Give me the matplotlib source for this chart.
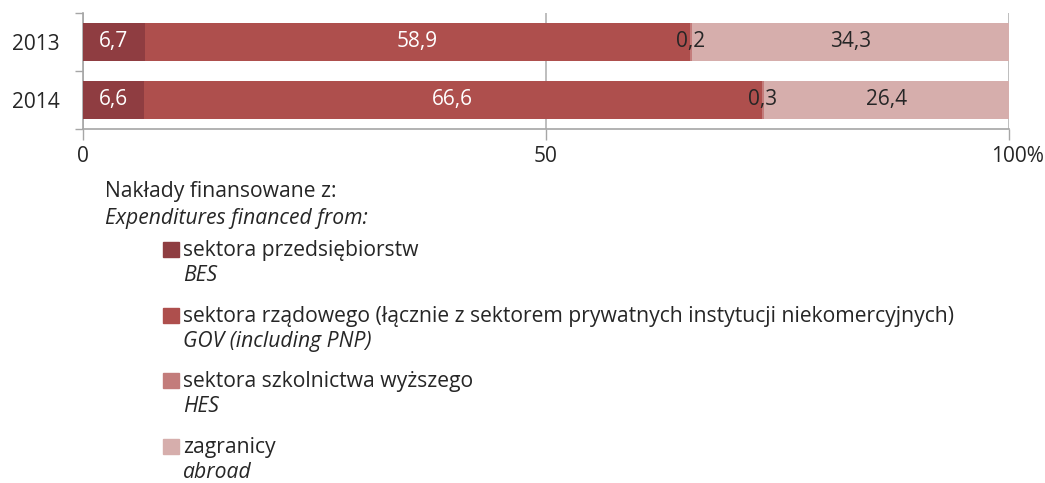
import matplotlib.pyplot as plt
import matplotlib.transforms as mtransforms
import numpy as np
from matplotlib.patches import Rectangle

plt.rcParams['font.family'] = ['Open Sans', 'DejaVu Sans']

# Udział nakładów wg źródeł finansowania (%)
years = ['2013', '2014']
bes = [6.7, 6.6]
gov = [58.9, 66.6]
hes = [0.2, 0.3]
abroad = [34.3, 26.4]

series_pl = ['sektora przedsiębiorstw',
             'sektora rządowego (łącznie z sektorem prywatnych instytucji niekomercyjnych)',
             'sektora szkolnictwa wyższego',
             'zagranicy']
series_en = ['BES', 'GOV (including PNP)', 'HES', 'abroad']
colors = ['#8F3D41', '#AE4F4D', '#C37C7B', '#D6AEAC']
label_colors = ['white', 'white', '#262626', '#262626']

W, H = 1045, 483
fig = plt.figure(figsize=(W / 100, H / 100), dpi=100)
ax = fig.add_axes([83 / W, 1 - 129 / H, 926 / W, 116 / H])

data = np.array([bes, gov, hes, abroad])
shares = data / data.sum(axis=0) * 100
y = np.arange(len(years))
left = np.zeros(len(years))
for i in range(len(data)):
    ax.barh(y, shares[i], left=left, height=0.66, color=colors[i], zorder=3)
    for j in range(len(years)):
        ax.text(left[j] + shares[i][j] / 2, y[j], f'{data[i][j]:.1f}'.replace('.', ','),
                ha='center', va='center', fontsize=15, color=label_colors[i], zorder=4)
    left += shares[i]

ax.set_xlim(0, 100)
ax.set_ylim(1.5, -0.5)
ax.set_xticks([0, 50, 100])
ax.set_xticklabels(['0', '50', '100%'])
ax.set_yticks(y)
ax.set_yticklabels(years)
ax.set_yticks([-0.5, 0.5, 1.5], minor=True)
ax.tick_params(axis='y', which='major', length=0, pad=17, labelsize=15, labelcolor='#262626')
ax.tick_params(axis='y', which='minor', length=6, width=1, color='#A6A6A6', direction='out')
ax.tick_params(axis='x', length=8, width=1, color='#A6A6A6', pad=4, labelsize=15, labelcolor='#262626')
# etykieta 100% przesunięta w prawo, żeby nie wychodziła poza rysunek
last = ax.get_xticklabels()[-1]
last.set_transform(last.get_transform() + mtransforms.ScaledTranslation(8 / 100, 0, fig.dpi_scale_trans))
ax.grid(axis='x', color='#B3B3B3', linewidth=1.2, zorder=0)
for s in ['top', 'right']:
    ax.spines[s].set_visible(False)
for s in ['left', 'bottom']:
    ax.spines[s].set_color('#A6A6A6')
    ax.spines[s].set_linewidth(1.2)


# legenda pod wykresem, współrzędne w pikselach
def fx(px):
    return px / W


def fy(py):
    return 1 - py / H


txt = dict(fontsize=15.2, color='#262626', va='baseline')
fig.text(fx(105), fy(197), 'Nakłady finansowane z:', **txt)
fig.text(fx(105), fy(224), 'Expenditures financed from:', style='italic', **txt)
for k in range(len(series_pl)):
    top = 242 + k * 65.7
    fig.add_artist(Rectangle((fx(163), fy(top + 15)), 16 / W, 15 / H,
                             transform=fig.transFigure, color=colors[k]))
    fig.text(fx(183), fy(top + 14), series_pl[k], **txt)
    fig.text(fx(183), fy(top + 39), series_en[k], style='italic', **txt)

fig.savefig('out.png', dpi=100)
